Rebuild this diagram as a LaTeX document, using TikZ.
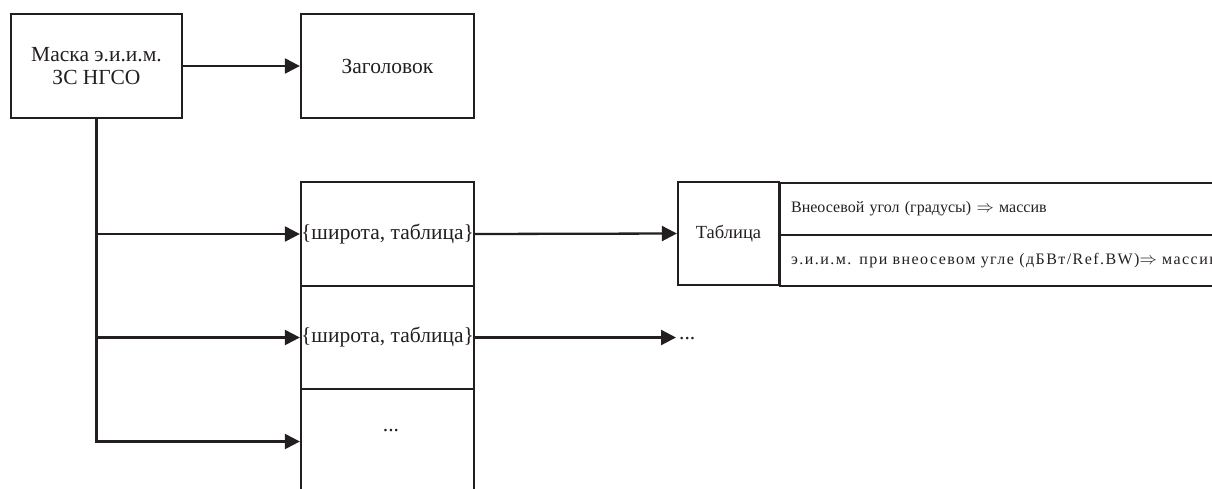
\documentclass[tikz,border=0pt]{standalone}
\usepackage{fontspec}
\setmainfont{Liberation Serif}
\usetikzlibrary{arrows.meta}
\definecolor{ink}{RGB}{35,31,32}
\begin{document}
\begin{tikzpicture}[x=1pt,y=-1pt,
  box/.style={draw=ink, line width=2.3pt, minimum width=173pt, minimum height=104pt,
    inner sep=0pt, align=center, text=ink, font=\fontsize{21.5}{23}\selectfont},
  bigtxt/.style={text=ink, font=\fontsize{21.5}{23}\selectfont, inner sep=0pt},
  small/.style={text=ink, font=\fontsize{16}{19}\selectfont},
  row/.style={draw=ink, line width=2.3pt, anchor=north west, text width=700pt,
    inner xsep=11pt, inner ysep=0pt, align=left, small},
  arr/.style={draw=ink, line width=2.3pt, -{Triangle[length=15pt,width=15pt]}}]
\useasboundingbox (0,0) rectangle (1212,488);

\node[box, minimum width=171pt] (mask) at (96.5,66) {Маска э.и.и.м.\\ЗС НГСО};
\node[box] (title) at (387.5,66) {Заголовок};

\node[box] (b1) at (387.5,234) {\{широта, таблица\}};
\node[box, minimum height=103pt] (b2) at (387.5,337.5) {\{широта, таблица\}};
\node[box, minimum height=105pt] (b3) at (387.5,441.5) {};
\node[bigtxt, anchor=base] (dots3) at (391,431) {...};

\node[draw=ink, line width=2.3pt, minimum width=101pt, minimum height=103pt, inner sep=0pt, text=ink, font=\fontsize{18.5}{21}\selectfont] (tab) at (728.5,233.5) {Таблица};
\node[row, minimum height=52pt] (r1) at (779,182) {Внеосевой угол (градусы) $\Rightarrow$ массив};
\node[row, minimum height=51pt] (r2) at (779,234) {\addfontfeature{LetterSpace=9}э.и.и.м. при внеосевом угле (дБВт/Ref.BW)$\Rightarrow$ массив};

\node[bigtxt, anchor=base west] (dots2) at (679,339) {...};

\draw[arr] (mask.east) -- (title.west);
\draw[arr] (mask.south |- b1.west) -- (b1.west);
\draw[arr] (mask.south |- b2.west) -- (b2.west);
\draw[arr] (mask.south) |- (b3.west);
\draw[arr] (b1.east) -- (tab.west);
\draw[arr] (b2.east) -- ([xshift=-3pt]b2.east -| dots2.west);
\end{tikzpicture}
\end{document}
